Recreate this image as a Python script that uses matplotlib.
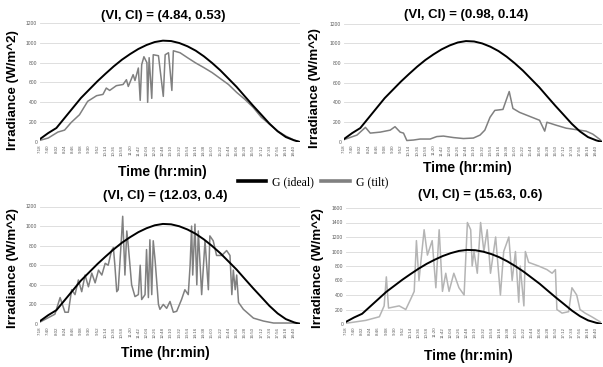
import matplotlib
matplotlib.use("Agg")
import matplotlib.pyplot as plt
from matplotlib.lines import Line2D

W, H = 603, 367

# ---- data (time in minutes since midnight, irradiance in W/m^2) ----
tick_labels = ["7:18", "7:40", "8:02", "8:24", "8:46", "9:08", "9:30", "9:52",
               "10:14", "10:36", "10:58", "11:20", "11:42", "12:04", "12:26",
               "12:48", "13:10", "13:32", "13:54", "14:16", "14:38", "15:00",
               "15:22", "15:44", "16:06", "16:28", "16:50", "17:12", "17:34",
               "17:56", "18:18", "18:40"]

ideal_t = [438, 460, 482, 504, 526, 548, 570, 592, 614, 636, 658, 680, 702,
           724, 746, 768, 790, 812, 834, 856, 878, 900, 922, 944, 966, 988,
           1010, 1032, 1054, 1076, 1098, 1120, 1136]
ideal_v = [30, 90, 141, 242, 343, 444, 528, 612, 689, 763, 830, 887, 938,
           978, 1008, 1022, 1018, 998, 965, 921, 864, 797, 723, 639, 555, 460,
           366, 276, 185, 108, 50, 17, 0]

tl_t = [438, 460, 486, 504, 522, 544, 566, 590, 607, 616, 625, 643, 661, 670,
        675, 688, 693, 702, 707, 711, 717, 725, 727, 731, 738, 742, 756, 769,
        774, 783, 792, 796, 814, 834, 856, 878, 900, 922, 944, 966, 988, 1010,
        1032, 1054, 1076, 1098, 1120, 1136]
tl_v = [17, 40, 100, 120, 198, 275, 410, 467, 480, 544, 520, 568, 580, 628,
        560, 679, 620, 746, 420, 780, 860, 800, 400, 850, 440, 880, 870, 460,
        880, 900, 520, 920, 900, 850, 797, 750, 700, 640, 580, 500, 430, 350,
        250, 180, 110, 60, 20, 0]

tr_t = [438, 473, 496, 509, 536, 563, 576, 590, 599, 608, 626, 644, 671, 689,
        707, 734, 761, 788, 806, 819, 833, 846, 868, 885, 895, 913, 940, 967,
        981, 987, 1012, 1039, 1075, 1093, 1111, 1129, 1136]
tr_v = [24, 70, 148, 90, 100, 120, 155, 100, 90, 15, 20, 30, 30, 55, 60, 45,
        35, 40, 70, 120, 250, 320, 330, 511, 340, 300, 260, 220, 110, 200, 170,
        140, 120, 110, 80, 30, 5]

bl_t = [438, 478, 492, 505, 514, 523, 532, 541, 550, 559, 568, 577, 586, 595,
        604, 613, 621, 630, 635, 639, 644, 648, 657, 660, 666, 671, 675, 684,
        693, 702, 707, 711, 720, 724, 729, 733, 738, 742, 747, 756, 760, 769,
        778, 787, 796, 805, 818, 827, 836, 841, 845, 848, 854, 859, 863, 872,
        881, 890, 894, 903, 912, 926, 939, 948, 953, 957, 962, 966, 971, 984,
        1011, 1038, 1065, 1100, 1134]
bl_v = [20, 100, 270, 120, 120, 350, 300, 450, 330, 500, 380, 520, 420, 550,
        500, 620, 600, 750, 780, 600, 330, 350, 900, 1100, 500, 950, 800, 400,
        280, 300, 600, 250, 300, 760, 270, 860, 300, 850, 650, 200, 150, 200,
        160, 230, 120, 130, 250, 350, 300, 600, 1000, 500, 1020, 400, 950, 300,
        850, 350, 900, 850, 700, 700, 750, 700, 300, 550, 350, 500, 220, 150,
        60, 30, 10, 10, 10]

br_t = [438, 492, 529, 542, 548, 554, 583, 601, 615, 624, 630, 637, 651, 660,
        673, 683, 692, 701, 710, 719, 732, 746, 760, 769, 778, 782, 787, 796,
        805, 814, 823, 832, 846, 859, 868, 882, 891, 900, 909, 913, 923, 927,
        936, 963, 986, 1000, 1009, 1013, 1027, 1045, 1054, 1067, 1076, 1090,
        1108, 1131]
br_v = [10, 50, 100, 250, 650, 220, 250, 200, 350, 450, 1150, 600, 1300, 950,
        1150, 500, 1300, 450, 700, 450, 700, 500, 400, 1400, 1300, 800, 1000,
        700, 1400, 1000, 1300, 700, 1200, 400, 1000, 1200, 600, 1000, 300, 800,
        250, 1000, 850, 800, 750, 700, 750, 200, 150, 170, 500, 400, 200, 150,
        100, 30]

titles = ["(VI, CI) = (4.84, 0.53)", "(VI, CI) = (0.98, 0.14)",
          "(VI, CI) = (12.03, 0.4)", "(VI, CI) = (15.63, 0.6)"]

# ---- figure ----
fig = plt.figure(figsize=(W / 100, H / 100), dpi=100)
fig.patch.set_facecolor("white")

def rect(x0, y0, x1, y1):
    return [x0 / W, 1 - y1 / H, (x1 - x0) / W, (y1 - y0) / H]

panels = [
    dict(r=rect(40, 23, 300, 142), t=tl_t, v=tl_v, c="#808080", ymax=1200,
         title=(163, 16), xl=(162, 172), yl=(13, 90)),
    dict(r=rect(344, 23.5, 602, 142), t=tr_t, v=tr_v, c="#808080", ymax=1200,
         title=(466, 15), xl=(467, 168), yl=(315, 88)),
    dict(r=rect(40, 206.5, 300, 324), t=bl_t, v=bl_v, c="#808080", ymax=1200,
         title=(165, 196), xl=(165, 353), yl=(13, 268)),
    dict(r=rect(346, 208, 602, 324), t=br_t, v=br_v, c="#b4b4b4", ymax=1600,
         title=(480, 195), xl=(468, 356), yl=(318, 268)),
]

sans = ["Liberation Sans", "DejaVu Sans"]
ticks = [438 + 22 * i for i in range(len(tick_labels))]

for p, title in zip(panels, titles):
    ax = fig.add_axes(p["r"])
    ax.set_xlim(438, 1136)
    ax.set_ylim(0, p["ymax"])
    ax.set_yticks(range(0, p["ymax"] + 1, 200))
    ax.grid(axis="y", color="#d9d9d9", linewidth=0.6)
    ax.set_axisbelow(True)
    for s in ax.spines.values():
        s.set_visible(False)
    ax.set_xticks(ticks)
    ax.set_xticklabels(tick_labels, rotation=90, fontsize=3.2, color="#595959",
                       family=sans)
    ax.tick_params(axis="both", length=0, pad=2)
    for lab in ax.get_yticklabels():
        lab.set_fontsize(3.6)
        lab.set_color("#595959")
        lab.set_family(sans)
    ax.plot(p["t"], p["v"], color=p["c"], linewidth=1.1, zorder=2)
    ax.plot(ideal_t, ideal_v, color="black", linewidth=1.4, zorder=3)
    fig.text(p["title"][0] / W, 1 - p["title"][1] / H, title, ha="center",
             va="center", fontsize=9.5, fontweight="bold", family=sans)
    fig.text(p["xl"][0] / W, 1 - p["xl"][1] / H, "Time (hr:min)", ha="center",
             va="center", fontsize=10, fontweight="bold", family=sans)
    fig.text(p["yl"][0] / W, 1 - p["yl"][1] / H, "Irradiance (W/m^2)",
             ha="center", va="center", rotation=90, fontsize=9.6,
             fontweight="bold", family=sans)

handles = [Line2D([], [], color="black", linewidth=2.6),
           Line2D([], [], color="#808080", linewidth=2.6)]
fig.legend(handles, ["G (ideal)", "G (tilt)"], loc="center",
           bbox_to_anchor=(313 / W, 1 - 182 / H), ncol=2, frameon=False,
           prop={"family": ["Liberation Serif", "DejaVu Serif"], "size": 8.5},
           handlelength=2.4, columnspacing=0.6, handletextpad=0.5)

fig.savefig("out.png", dpi=100, facecolor="white")
